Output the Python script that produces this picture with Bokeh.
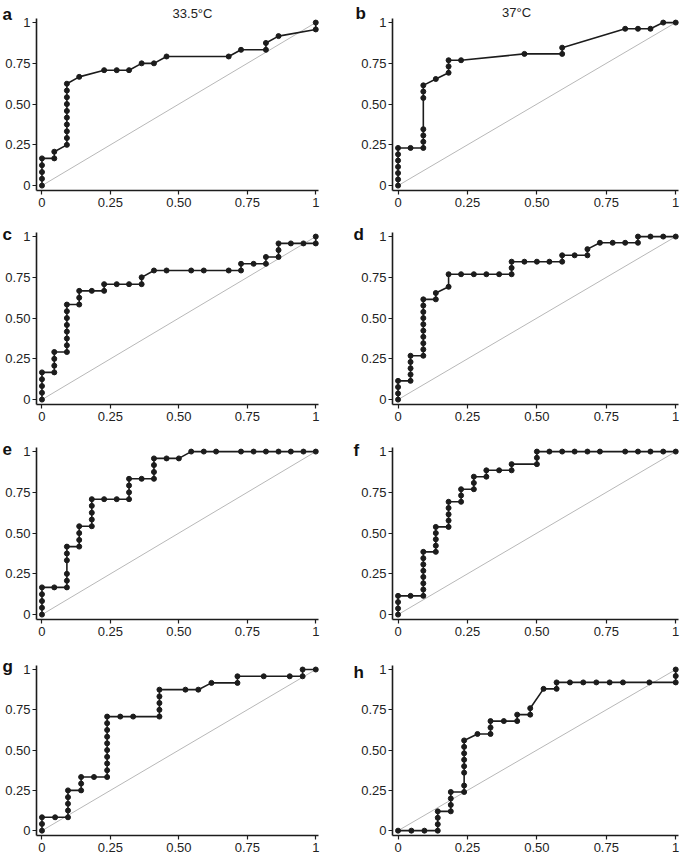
from bokeh.plotting import figure
from bokeh.layouts import gridplot
from bokeh.models import Range1d, FixedTicker
from bokeh.core.properties import value
from bokeh.embed import file_html
from bokeh.resources import INLINE

# ---- data (FPR on x, TPR on y) ----
TICKS = [0, 0.25, 0.5, 0.75, 1]
TICK_LABELS = ["0", "0.25", "0.50", "0.75", "1"]
DIAG_X = [0, 1]
DIAG_Y = [0, 1]
LETTERS = ["a", "b", "c", "d", "e", "f", "g", "h"]
TITLES = {"a": "33.5°C", "b": "37°C"}

a_x = [0, 0, 0, 0, 0, 0.045, 0.045, 0.091, 0.091, 0.091, 0.091, 0.091, 0.091, 0.091, 0.091, 0.091, 0.091,
       0.136, 0.227, 0.273, 0.318, 0.364, 0.409, 0.455, 0.682, 0.727, 0.818, 0.818, 0.864, 1, 1]
a_y = [0, 0.042, 0.083, 0.125, 0.167, 0.167, 0.208, 0.25, 0.292, 0.333, 0.375, 0.417, 0.458, 0.5, 0.542, 0.583, 0.625,
       0.667, 0.708, 0.708, 0.708, 0.75, 0.75, 0.792, 0.792, 0.833, 0.833, 0.875, 0.917, 0.958, 1]

b_x = [0, 0, 0, 0, 0, 0, 0, 0.045, 0.091, 0.091, 0.091, 0.091, 0.091, 0.091, 0.091,
       0.136, 0.182, 0.182, 0.182, 0.227, 0.455, 0.591, 0.591, 0.818, 0.864, 0.909, 0.955, 1]
b_y = [0, 0.038, 0.077, 0.115, 0.154, 0.192, 0.231, 0.231, 0.231, 0.269, 0.308, 0.346, 0.538, 0.577, 0.615,
       0.654, 0.692, 0.731, 0.769, 0.769, 0.808, 0.808, 0.846, 0.962, 0.962, 0.962, 1, 1]

c_x = [0, 0, 0, 0, 0, 0.045, 0.045, 0.045, 0.045, 0.091, 0.091, 0.091, 0.091, 0.091, 0.091, 0.091, 0.091,
       0.136, 0.136, 0.136, 0.182, 0.227, 0.227, 0.273, 0.318, 0.364, 0.364, 0.409, 0.455, 0.545, 0.591, 0.682,
       0.727, 0.727, 0.773, 0.818, 0.818, 0.864, 0.864, 0.864, 0.909, 0.955, 1, 1]
c_y = [0, 0.042, 0.083, 0.125, 0.167, 0.167, 0.208, 0.25, 0.292, 0.292, 0.333, 0.375, 0.417, 0.458, 0.5, 0.542, 0.583,
       0.583, 0.625, 0.667, 0.667, 0.667, 0.708, 0.708, 0.708, 0.708, 0.75, 0.792, 0.792, 0.792, 0.792, 0.792,
       0.792, 0.833, 0.833, 0.833, 0.875, 0.875, 0.917, 0.958, 0.958, 0.958, 0.958, 1]

d_x = [0, 0, 0, 0, 0.045, 0.045, 0.045, 0.045, 0.045, 0.091, 0.091, 0.091, 0.091, 0.091, 0.091, 0.091, 0.091, 0.091, 0.091,
       0.136, 0.136, 0.182, 0.182, 0.227, 0.273, 0.318, 0.364, 0.409, 0.409, 0.409, 0.455, 0.5, 0.545, 0.591, 0.591,
       0.636, 0.682, 0.682, 0.727, 0.773, 0.818, 0.864, 0.864, 0.909, 0.955, 1]
d_y = [0, 0.038, 0.077, 0.115, 0.115, 0.154, 0.192, 0.231, 0.269, 0.269, 0.308, 0.346, 0.385, 0.423, 0.462, 0.5, 0.538, 0.577, 0.615,
       0.615, 0.654, 0.692, 0.769, 0.769, 0.769, 0.769, 0.769, 0.769, 0.808, 0.846, 0.846, 0.846, 0.846, 0.846, 0.885,
       0.885, 0.885, 0.923, 0.962, 0.962, 0.962, 0.962, 1, 1, 1, 1]

e_x = [0, 0, 0, 0, 0, 0.045, 0.091, 0.091, 0.091, 0.091, 0.091, 0.091, 0.136, 0.136, 0.136, 0.136,
       0.182, 0.182, 0.182, 0.182, 0.182, 0.227, 0.273, 0.318, 0.318, 0.318, 0.318, 0.364, 0.409, 0.409, 0.409, 0.409,
       0.455, 0.5, 0.545, 0.591, 0.636, 0.727, 0.773, 0.818, 0.864, 0.909, 0.955, 1]
e_y = [0, 0.042, 0.083, 0.125, 0.167, 0.167, 0.167, 0.208, 0.25, 0.333, 0.375, 0.417, 0.417, 0.458, 0.5, 0.542,
       0.542, 0.583, 0.625, 0.667, 0.708, 0.708, 0.708, 0.708, 0.75, 0.792, 0.833, 0.833, 0.833, 0.875, 0.917, 0.958,
       0.958, 0.958, 1, 1, 1, 1, 1, 1, 1, 1, 1, 1]

f_x = [0, 0, 0, 0, 0.045, 0.091, 0.091, 0.091, 0.091, 0.091, 0.091, 0.091, 0.091,
       0.136, 0.136, 0.136, 0.136, 0.136, 0.182, 0.182, 0.182, 0.182, 0.182, 0.227, 0.227, 0.227,
       0.273, 0.273, 0.273, 0.318, 0.318, 0.364, 0.409, 0.409, 0.5, 0.5, 0.5,
       0.545, 0.591, 0.636, 0.682, 0.727, 0.818, 0.864, 0.909, 0.955, 1]
f_y = [0, 0.038, 0.077, 0.115, 0.115, 0.115, 0.154, 0.192, 0.231, 0.269, 0.308, 0.346, 0.385,
       0.385, 0.423, 0.462, 0.5, 0.538, 0.538, 0.577, 0.615, 0.654, 0.692, 0.692, 0.731, 0.769,
       0.769, 0.808, 0.846, 0.846, 0.885, 0.885, 0.885, 0.923, 0.923, 0.962, 1,
       1, 1, 1, 1, 1, 1, 1, 1, 1, 1]

g_x = [0, 0, 0, 0.048, 0.095, 0.095, 0.095, 0.095, 0.095, 0.143, 0.143, 0.143, 0.19,
       0.238, 0.238, 0.238, 0.238, 0.238, 0.238, 0.238, 0.238, 0.238, 0.238, 0.286, 0.333,
       0.429, 0.429, 0.429, 0.429, 0.429, 0.524, 0.571, 0.619, 0.714, 0.714, 0.81, 0.905, 0.952, 0.952, 1]
g_y = [0, 0.042, 0.083, 0.083, 0.083, 0.125, 0.167, 0.208, 0.25, 0.25, 0.292, 0.333, 0.333,
       0.333, 0.375, 0.417, 0.458, 0.5, 0.542, 0.583, 0.625, 0.667, 0.708, 0.708, 0.708,
       0.708, 0.75, 0.792, 0.833, 0.875, 0.875, 0.875, 0.917, 0.917, 0.958, 0.958, 0.958, 0.958, 1, 1]

h_x = [0, 0.048, 0.095, 0.143, 0.143, 0.143, 0.143, 0.19, 0.19, 0.19, 0.19,
       0.238, 0.238, 0.238, 0.238, 0.238, 0.238, 0.238, 0.238, 0.286, 0.333, 0.333, 0.333,
       0.381, 0.429, 0.429, 0.476, 0.476, 0.524, 0.571, 0.571,
       0.619, 0.667, 0.714, 0.762, 0.81, 0.905, 1, 1, 1]
h_y = [0, 0, 0, 0, 0.04, 0.08, 0.12, 0.12, 0.16, 0.2, 0.24,
       0.24, 0.28, 0.36, 0.4, 0.44, 0.48, 0.52, 0.56, 0.6, 0.6, 0.64, 0.68,
       0.68, 0.68, 0.72, 0.72, 0.76, 0.88, 0.88, 0.92,
       0.92, 0.92, 0.92, 0.92, 0.92, 0.92, 0.92, 0.96, 1]

SERIES = [(a_x, a_y), (b_x, b_y), (c_x, c_y), (d_x, d_y),
          (e_x, e_y), (f_x, f_y), (g_x, g_y), (h_x, h_y)]

# ---- layout (pixels); axes are drawn at fixed positions inside a full-canvas frame ----
X0, X1 = -0.02, 1.01      # extent of the x axis line
Y0, Y1 = -0.03, 1.025     # extent of the y axis line
COL_W = (340, 343)        # canvas widths
COL_AX_LEFT = (36, 52)    # px of the y axis line from canvas left
COL_AX_W = (282, 286)     # px length of the x axis line
ROW_H = (213, 215, 217, 212)
ROW_AX_TOP = (18, 19, 19, 20)
ROW_AX_H = (172, 172, 172, 170)
LETTER_POS = [(2, 14), (15, 13), (2, 21), (13, 21), (2, 20), (13, 22), (2, 21), (13, 27)]  # canvas px, baseline
TITLE_POS = [(192, 13), (176, 12)]
INK = "#1c1c1c"
FONT = "Liberation Sans"


def panel(i, xs, ys):
    col, row = i % 2, i // 2
    letter = LETTERS[i]
    W, H = COL_W[col], ROW_H[row]
    fl, ft = COL_AX_LEFT[col], ROW_AX_TOP[row]
    ppx = COL_AX_W[col] / (X1 - X0)
    ppy = ROW_AX_H[row] / (Y1 - Y0)

    def dx(cx):
        return X0 + (cx - fl) / ppx

    def dy(cy):
        return Y1 - (cy - ft) / ppy

    p = figure(width=W, height=H, min_border=0,
               min_border_left=0, min_border_right=0, min_border_top=0, min_border_bottom=0,
               x_range=Range1d(dx(0), dx(W)), y_range=Range1d(dy(H), dy(0)),
               output_backend="svg", toolbar_location=None, tools="")
    p.outline_line_color = None
    p.xgrid.visible = False
    p.ygrid.visible = False
    overrides = dict(zip(TICKS, TICK_LABELS))
    for ax in (p.xaxis[0], p.yaxis[0]):
        ax.ticker = FixedTicker(ticks=TICKS)
        ax.major_label_overrides = overrides
        ax.axis_line_color = INK
        ax.axis_line_width = 1.6
        ax.major_tick_line_color = INK
        ax.major_tick_line_width = 1.2
        ax.major_tick_out = 4
        ax.major_tick_in = 0
        ax.minor_tick_line_color = None
        ax.major_label_text_font = FONT
        ax.major_label_text_font_size = "13px"
        ax.major_label_text_color = "#222222"
    p.xaxis[0].fixed_location = Y0
    p.xaxis[0].bounds = (X0, X1)
    p.xaxis[0].major_label_standoff = 3
    p.yaxis[0].fixed_location = X0
    p.yaxis[0].bounds = (Y0, Y1)
    p.yaxis[0].major_label_standoff = 2

    p.line(DIAG_X, DIAG_Y, line_color="#b8b8b8", line_width=1)
    p.line(xs, ys, line_color=INK, line_width=1.6)
    p.scatter(xs, ys, size=5, color=INK)

    lx, ly = LETTER_POS[i]
    p.text(x=[dx(lx)], y=[dy(ly)], text=[letter], text_font=value(FONT), text_font_style="bold",
           text_font_size="17px", text_color="#111111", text_align="left", text_baseline="alphabetic")
    if letter in TITLES:
        tx, ty = TITLE_POS[col]
        p.text(x=[dx(tx)], y=[dy(ty)], text=[TITLES[letter]], text_font=value(FONT),
               text_font_size="13px", text_color="#222222", text_align="center", text_baseline="alphabetic")
    return p


figs = [panel(i, xs, ys) for i, (xs, ys) in enumerate(SERIES)]

grid = gridplot([[figs[0], figs[1]], [figs[2], figs[3]], [figs[4], figs[5]], [figs[6], figs[7]]],
                toolbar_location=None)

open("out.html", "w").write(file_html(grid, INLINE))
